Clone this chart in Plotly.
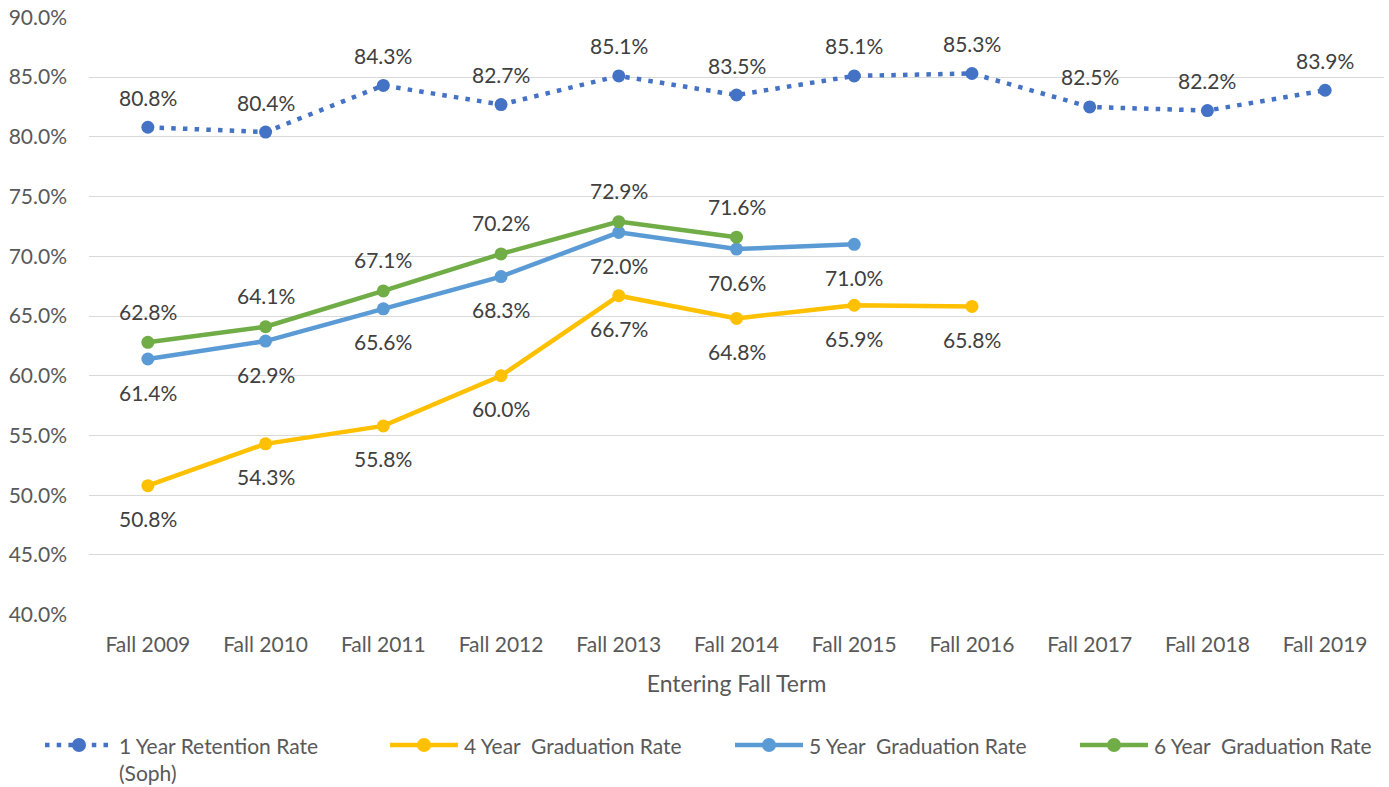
import plotly.graph_objects as go

categories = ["Fall 2009", "Fall 2010", "Fall 2011", "Fall 2012", "Fall 2013", "Fall 2014",
              "Fall 2015", "Fall 2016", "Fall 2017", "Fall 2018", "Fall 2019"]
retention = [80.8, 80.4, 84.3, 82.7, 85.1, 83.5, 85.1, 85.3, 82.5, 82.2, 83.9]
grad4 = [50.8, 54.3, 55.8, 60.0, 66.7, 64.8, 65.9, 65.8]
grad5 = [61.4, 62.9, 65.6, 68.3, 72.0, 70.6, 71.0]
grad6 = [62.8, 64.1, 67.1, 70.2, 72.9, 71.6]
y_ticks = [40, 45, 50, 55, 60, 65, 70, 75, 80, 85, 90]
series_names = ["1 Year Retention Rate<br>(Soph)", "4 Year  Graduation Rate",
                "5 Year  Graduation Rate", "6 Year  Graduation Rate"]

styles = [
    ("#4472C4", "4.5px,7.2px", 4.5, 30),
    ("#FFC000", "solid", 4.5, -33),
    ("#5B9BD5", "solid", 4.5, -33),
    ("#70AD47", "solid", 4.5, 31),
]
values = [retention, grad4, grad5, grad6]

W, H = 1389, 787
ML, MR, MT, MB = 89, 5, 17, 172
PW = W - ML - MR
PH = H - MT - MB

FONT = "Lato"
fig = go.Figure()
annotations = []
shapes = []


def px(xp):
    return (xp - ML) / PW


def py(yp):
    return (H - MB - yp) / PH


for i, (name, vals, (color, dash, width, shift)) in enumerate(zip(series_names, values, styles)):
    xs = categories[:len(vals)]
    fig.add_trace(go.Scatter(
        x=xs, y=vals, name=name, mode="lines+markers", showlegend=False,
        line=dict(color=color, width=width, dash=dash),
        marker=dict(color=color, size=13),
        cliponaxis=False,
    ))
    for x, v in zip(xs, vals):
        annotations.append(dict(
            x=x, y=v, xref="x", yref="y", text=f"{v:.1f}%", showarrow=False,
            yshift=shift, font=dict(family=FONT, size=21, color="#404040"),
        ))
    # manual legend entry
    x0 = 45 + 345 * i
    ly = 745
    shapes.append(dict(type="line", xref="paper", yref="paper",
                       x0=px(x0), x1=px(x0 + 68), y0=py(ly), y1=py(ly),
                       line=dict(color=color, width=width, dash=dash)))
    shapes.append(dict(type="circle", xref="paper", yref="paper",
                       xsizemode="pixel", ysizemode="pixel",
                       xanchor=px(x0 + 34), yanchor=py(ly),
                       x0=-7, x1=7, y0=-7, y1=7,
                       fillcolor=color, line=dict(color=color, width=0)))
    annotations.append(dict(
        x=px(x0 + 72), y=py(ly - 14), xref="paper", yref="paper",
        xanchor="left", yanchor="top", align="left", showarrow=False,
        text=name, font=dict(family=FONT, size=21, color="#595959"),
    ))

fig.update_layout(
    width=W, height=H,
    margin=dict(l=ML, r=MR, t=MT, b=MB, autoexpand=False),
    paper_bgcolor="white", plot_bgcolor="white",
    font=dict(family=FONT, size=21, color="#595959"),
    annotations=annotations,
    shapes=shapes,
    showlegend=False,
    xaxis=dict(
        type="category", categoryorder="array", categoryarray=categories,
        range=[-0.5, len(categories) - 0.5],
        showgrid=False, showline=False, ticks="", ticklabelstandoff=15,
        title=dict(text="Entering Fall Term", font=dict(family=FONT, size=23, color="#595959"), standoff=20),
        tickfont=dict(family=FONT, size=21, color="#595959"),
    ),
    yaxis=dict(
        range=[39.97, 90.03], tickvals=y_ticks,
        ticktext=[f"{t:.1f}%" for t in y_ticks],
        showgrid=True, gridcolor="#D9D9D9", gridwidth=1.3,
        zeroline=False, showline=False, ticks="", ticklabelstandoff=21,
        ticklabeloverflow="allow",
        tickfont=dict(family=FONT, size=21, color="#595959"),
    ),
)

fig.write_html("out.html", config={"displayModeBar": False},
               post_script="document.body.style.margin='0';document.body.style.overflow='hidden';")
